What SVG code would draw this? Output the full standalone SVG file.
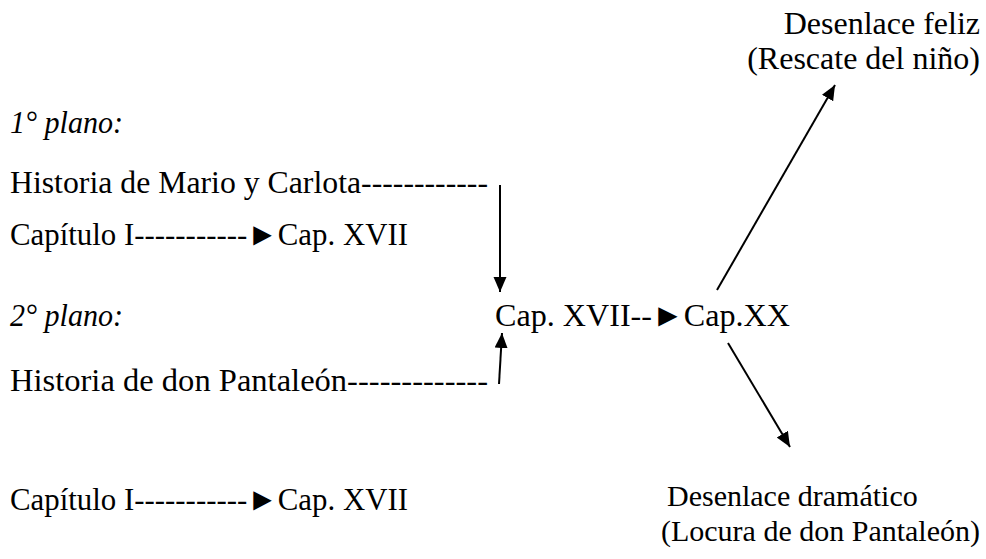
<svg xmlns="http://www.w3.org/2000/svg" width="986" height="559" viewBox="0 0 986 559">
<style>
text{font-family:"Liberation Serif","Times New Roman",serif;font-size:32px;fill:#000}
.it{font-style:italic}
.dr{font-size:30px}
.c{stroke:#000;stroke-width:2;fill:none}
</style>
<defs>
<marker id="ah" markerUnits="userSpaceOnUse" markerWidth="16" markerHeight="14" refX="15" refY="6.5" orient="auto">
<path d="M0,0 L15,6.5 L0,13 z" fill="#000"/>
</marker>
</defs>
<rect width="986" height="559" fill="#fff"/>
<g id="plano1"><text class="it" x="10" y="133" textLength="113" lengthAdjust="spacingAndGlyphs">1° plano:</text></g>
<g id="mario"><text x="10" y="193" textLength="478" lengthAdjust="spacingAndGlyphs">Historia de Mario y Carlota------------</text></g>
<g id="cap1a"><text x="10" y="245" textLength="398" lengthAdjust="spacingAndGlyphs">Capítulo I-----------►Cap. XVII</text></g>
<g id="plano2"><text class="it" x="10" y="326" textLength="113" lengthAdjust="spacingAndGlyphs">2° plano:</text></g>
<g id="center"><text x="495" y="326" textLength="295" lengthAdjust="spacingAndGlyphs">Cap. XVII--►Cap.XX</text></g>
<g id="pantaleon"><text x="10" y="391" textLength="478" lengthAdjust="spacingAndGlyphs">Historia de don Pantaleón-------------</text></g>
<g id="cap1b"><text x="10" y="510" textLength="398" lengthAdjust="spacingAndGlyphs">Capítulo I-----------►Cap. XVII</text></g>
<g id="feliz"><text x="980" y="34" text-anchor="end">Desenlace feliz</text><text x="980" y="69" text-anchor="end">(Rescate del niño)</text></g>
<g id="dramatico"><text class="dr" x="667" y="506">Desenlace dramático</text><text class="dr" x="980" y="541" text-anchor="end">(Locura de don Pantaleón)</text></g>
<g id="connectors">
<line class="c" x1="500" y1="185" x2="500" y2="292" marker-end="url(#ah)"/>
<line class="c" x1="499" y1="384" x2="502" y2="333" marker-end="url(#ah)"/>
<line class="c" x1="717" y1="290" x2="835" y2="85" marker-end="url(#ah)"/>
<line class="c" x1="728" y1="343" x2="790" y2="447" marker-end="url(#ah)"/>
</g>
</svg>
